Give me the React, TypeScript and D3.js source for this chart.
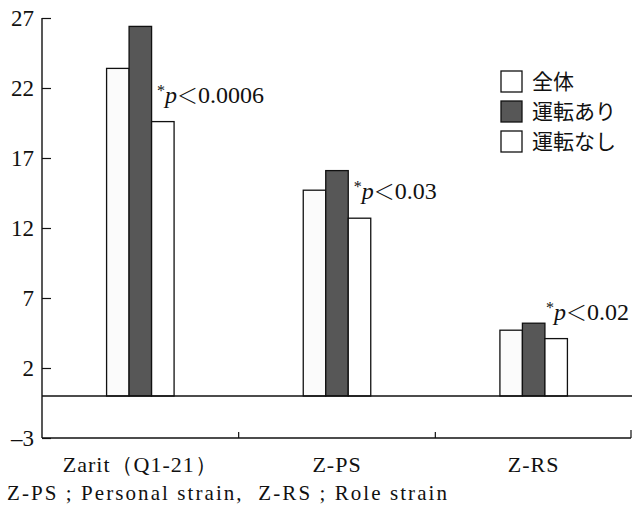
import React, { useEffect, useRef } from 'react';
import * as d3 from 'd3';

const categories = ['Zarit（Q1-21）', 'Z-PS', 'Z-RS'];
const seriesNames = ['全体', '運転あり', '運転なし'];
const allValues = [23.4, 14.7, 4.7];
const driveYes = [26.4, 16.1, 5.2];
const driveNo = [19.6, 12.7, 4.1];
const pLabels = ['0.0006', '0.03', '0.02'];
const yTicks = [27, 22, 17, 12, 7, 2, -3];
const footnote = 'Z-PS ; Personal strain,  Z-RS ; Role strain';

const fills = ['#fbfbfb', '#575757', '#ffffff'];
const font = '"Liberation Serif", "DejaVu Serif", serif';
const jp = 'Noto Sans CJK JP';

function App() {
  const ref = useRef<SVGSVGElement>(null);

  useEffect(() => {
    const width = 632;
    const height = 505;
    const left = 42;
    const right = 632;
    const top = 18;
    const bottom = 438;

    const svg = d3.select(ref.current);
    svg.selectAll('*').remove();
    svg.attr('width', width).attr('height', height);

    const y = d3.scaleLinear().domain([-3, 27]).range([bottom, top]);
    const x = d3.scaleBand().domain(categories).range([left, right]).padding(0);
    const groupW = 67.5;
    const inner = d3.scaleBand()
      .domain(seriesNames)
      .range([x.bandwidth() / 2 - groupW / 2, x.bandwidth() / 2 + groupW / 2])
      .padding(0);

    const rows = categories.map((c, i) => ({
      cat: c,
      vals: [allValues[i], driveYes[i], driveNo[i]],
      p: pLabels[i],
    }));

    // bars
    const g = svg.append('g');
    rows.forEach((r) => {
      r.vals.forEach((v, j) => {
        g.append('rect')
          .attr('x', (x(r.cat) as number) + (inner(seriesNames[j]) as number))
          .attr('y', y(v))
          .attr('width', inner.bandwidth())
          .attr('height', y(0) - y(v))
          .attr('fill', fills[j])
          .attr('stroke', '#111')
          .attr('stroke-width', 1.3);
      });
    });

    // zero line
    svg.append('line')
      .attr('x1', left).attr('x2', right)
      .attr('y1', y(0)).attr('y2', y(0))
      .attr('stroke', '#111').attr('stroke-width', 1.4);

    // y axis
    const yAxis = d3.axisLeft(y).tickValues(yTicks).tickSize(-9).tickPadding(8)
      .tickFormat((d) => (Number(d) < 0 ? '–' + Math.abs(Number(d)) : String(d)));
    const ya = svg.append('g').attr('transform', `translate(${left},0)`).call(yAxis);
    ya.attr('font-family', null).attr('font-size', null);
    ya.select('.domain').remove();
    ya.selectAll('line').attr('stroke', '#111').attr('stroke-width', 1.2);
    ya.selectAll('text').style('font-family', font).style('font-size', '23px').attr('fill', '#111');
    svg.append('line')
      .attr('x1', left).attr('x2', left).attr('y1', top).attr('y2', bottom)
      .attr('stroke', '#111').attr('stroke-width', 1.4);

    // x axis
    svg.append('line')
      .attr('x1', left).attr('x2', right - 1).attr('y1', bottom).attr('y2', bottom)
      .attr('stroke', '#111').attr('stroke-width', 1.4);
    categories.slice(1).forEach((c) => {
      svg.append('line')
        .attr('x1', x(c) as number).attr('x2', x(c) as number)
        .attr('y1', bottom).attr('y2', bottom - 6)
        .attr('stroke', '#111').attr('stroke-width', 1.2);
    });
    svg.append('line')
      .attr('x1', right - 1).attr('x2', right - 1)
      .attr('y1', bottom).attr('y2', bottom - 8)
      .attr('stroke', '#111').attr('stroke-width', 1.2);

    svg.selectAll('text.cat')
      .data(categories)
      .enter()
      .append('text')
      .attr('class', 'cat')
      .attr('x', (d) => (x(d) as number) + x.bandwidth() / 2)
      .attr('y', 472)
      .attr('text-anchor', 'middle')
      .style('font-family', font)
      .style('font-size', '22px')
      .style('letter-spacing', '1px')
      .attr('fill', '#111')
      .text((d) => d);

    // p-value annotations
    rows.forEach((r) => {
      const ax = (x(r.cat) as number) + (inner(seriesNames[2]) as number) + inner.bandwidth() - 17;
      const ay = y(r.vals[2]) - 19;
      const t = svg.append('text')
        .attr('x', ax).attr('y', ay)
        .style('font-family', font)
        .style('font-size', '24px')
        .attr('fill', '#111');
      t.append('tspan').style('font-size', '16px').attr('dy', -7).text('*');
      t.append('tspan').style('font-style', 'italic').attr('dy', 7).text('p');
      t.append('tspan').style('font-family', jp).style('font-weight', 300).style('font-size', '21px').text('＜');
      t.append('tspan').text(r.p);
      // keep the label inside the picture
      const w = (t.node() as SVGTextElement).getComputedTextLength();
      if (ax + w > width - 3) t.attr('x', width - 3 - w);
    });

    // legend
    const lg = svg.append('g').attr('transform', 'translate(501,71)');
    seriesNames.forEach((s, i) => {
      const row = lg.append('g').attr('transform', `translate(0,${i * 30})`);
      row.append('rect')
        .attr('width', 21).attr('height', 21)
        .attr('fill', i === 1 ? fills[1] : '#fff')
        .attr('stroke', '#111').attr('stroke-width', 1.3);
      row.append('text')
        .attr('x', 31).attr('y', 18)
        .style('font-family', jp)
        .style('font-size', '21px')
        .attr('fill', '#111')
        .text(s);
    });

    // footnote
    svg.append('text')
      .attr('x', 7).attr('y', 500)
      .attr('textLength', 440)
      .attr('lengthAdjust', 'spacing')
      .style('font-family', font)
      .style('font-size', '21px')
      .style('white-space', 'pre')
      .attr('fill', '#111')
      .text(footnote);
  }, []);

  return (
    <div>
      <svg ref={ref} style={{ position: 'absolute', left: 0, top: 0, background: '#fff' }}></svg>
    </div>
  );
}

export default App;
